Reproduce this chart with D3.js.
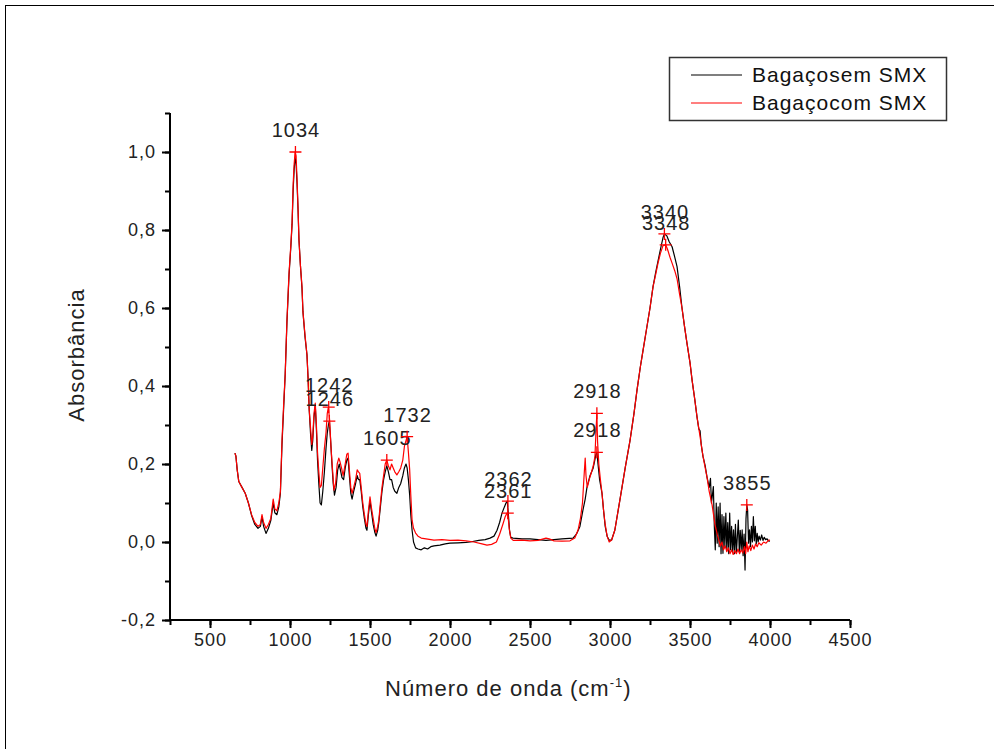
<!DOCTYPE html>
<html>
<head>
<meta charset="utf-8">
<script src="https://cdn.jsdelivr.net/npm/d3@7"></script>
<style>
  body{margin:0;background:#fff;}
  svg{display:block;font-family:"Liberation Sans",Arial,sans-serif;}
</style>
</head>
<body>
<div class="chart"></div>
<script>
// espectros FTIR - bagaço sem / com SMX

const semWn = [656,662,670,680,700,720,740,760,780,800,815,825,835,850,865,880,895,905,918,930,940,950,960,970,981,994,1005,1013,1020,1026,1032,1038,1044,1050,1056,1065,1075,1081,1094,1106,1113,1120,1128,1136,1142,1150,1158,1165,1172,1180,1188,1196,1205,1215,1225,1233,1240,1246,1254,1262,1270,1278,1288,1298,1308,1315,1325,1335,1345,1355,1363,1372,1380,1388,1398,1410,1420,1428,1436,1445,1455,1465,1475,1481,1490,1500,1510,1520,1530,1538,1548,1555,1565,1575,1585,1595,1605,1615,1625,1635,1645,1655,1668,1680,1692,1705,1715,1725,1732,1740,1748,1755,1763,1772,1785,1800,1820,1840,1860,1880,1900,1937,1970,2000,2050,2100,2125,2180,2220,2250,2275,2294,2310,2325,2340,2350,2358,2365,2372,2380,2394,2450,2500,2550,2600,2650,2700,2769,2790,2812,2830,2845,2856,2875,2895,2905,2912,2918,2925,2935,2950,2960,2970,2982,2994,3010,3030,3062,3095,3125,3150,3169,3190,3206,3230,3250,3269,3285,3300,3315,3331,3340,3355,3370,3388,3405,3419,3435,3450,3465,3481,3500,3513,3530,3544,3555,3563,3570,3581,3595,3606,3620,3628,3634,3640,3646,3652,3658,3664,3670,3676,3682,3688,3694,3700,3706,3712,3718,3724,3730,3736,3742,3748,3754,3760,3766,3772,3778,3784,3790,3796,3802,3808,3814,3820,3826,3832,3838,3844,3850,3855,3860,3866,3872,3878,3884,3890,3896,3902,3908,3914,3920,3926,3932,3940,3948,3956,3964,3972,3982,3990,4000];
const semAbs = [0.228,0.22,0.185,0.155,0.14,0.125,0.1,0.068,0.045,0.035,0.04,0.065,0.04,0.022,0.035,0.055,0.1,0.075,0.07,0.09,0.125,0.25,0.34,0.43,0.565,0.685,0.755,0.815,0.905,0.955,0.985,0.97,0.92,0.855,0.775,0.71,0.65,0.59,0.525,0.48,0.42,0.34,0.28,0.235,0.26,0.32,0.35,0.29,0.21,0.15,0.1,0.095,0.13,0.18,0.24,0.28,0.3,0.31,0.26,0.2,0.15,0.12,0.14,0.185,0.2,0.185,0.165,0.16,0.19,0.21,0.215,0.165,0.125,0.11,0.13,0.15,0.17,0.16,0.16,0.13,0.09,0.06,0.035,0.03,0.07,0.105,0.075,0.045,0.025,0.015,0.03,0.05,0.09,0.13,0.16,0.18,0.195,0.18,0.16,0.16,0.14,0.13,0.125,0.14,0.15,0.17,0.19,0.2,0.19,0.16,0.12,0.07,0.03,0.0,-0.015,-0.018,-0.02,-0.015,-0.018,-0.012,-0.01,-0.008,-0.005,-0.003,-0.002,-0.001,0.0,0.004,0.006,0.01,0.015,0.03,0.05,0.074,0.09,0.1,0.105,0.07,0.03,0.012,0.01,0.008,0.008,0.006,0.004,0.006,0.008,0.01,0.02,0.04,0.08,0.11,0.14,0.17,0.19,0.21,0.225,0.23,0.2,0.16,0.125,0.08,0.04,0.015,0.005,0.005,0.03,0.108,0.19,0.26,0.33,0.39,0.45,0.49,0.55,0.6,0.655,0.69,0.72,0.75,0.78,0.79,0.785,0.77,0.757,0.73,0.706,0.655,0.6,0.555,0.51,0.46,0.415,0.365,0.32,0.29,0.285,0.25,0.22,0.195,0.167,0.14,0.163,0.1,0.12,0.142,0.04,-0.02,0.1,-0.003,0.09,-0.012,0.1,-0.03,0.07,-0.029,0.065,-0.012,0.074,-0.02,0.05,-0.03,0.074,-0.02,0.04,-0.025,0.031,-0.03,0.045,-0.029,0.014,0.056,-0.025,0.03,-0.02,0.031,-0.035,0.02,-0.072,0.06,0.095,0.082,-0.003,0.031,-0.012,0.04,0.0,0.065,0.003,0.04,-0.005,0.022,0.0,0.015,0.005,0.018,0.004,0.012,0.006,0.008,0.003,0.002];

const comWn = [656,662,670,680,700,720,740,760,780,800,815,825,835,850,865,880,895,905,918,930,940,950,960,970,981,994,1005,1013,1020,1026,1032,1038,1044,1050,1056,1065,1075,1081,1094,1106,1113,1120,1128,1136,1142,1150,1158,1165,1172,1180,1188,1196,1205,1215,1225,1233,1240,1248,1256,1265,1275,1285,1295,1305,1313,1322,1332,1345,1355,1363,1372,1380,1388,1398,1410,1420,1428,1436,1445,1455,1465,1475,1481,1490,1500,1510,1520,1530,1538,1548,1555,1565,1575,1585,1595,1605,1615,1625,1635,1645,1655,1668,1680,1692,1705,1715,1725,1732,1740,1748,1755,1763,1772,1785,1800,1820,1850,1900,1950,2000,2050,2100,2150,2200,2231,2260,2290,2310,2330,2345,2356,2362,2370,2380,2395,2450,2500,2550,2600,2620,2650,2700,2750,2780,2800,2815,2828,2838,2845,2850,2858,2870,2885,2898,2906,2912,2918,2922,2930,2940,2950,2960,2970,2982,2995,3010,3030,3062,3095,3125,3150,3169,3190,3206,3230,3250,3269,3285,3300,3315,3331,3348,3360,3375,3388,3405,3419,3435,3450,3465,3481,3500,3513,3530,3544,3563,3581,3595,3606,3620,3638,3656,3670,3680,3690,3700,3710,3720,3730,3740,3750,3760,3770,3780,3790,3800,3810,3820,3830,3840,3848,3855,3862,3870,3880,3890,3900,3910,3920,3930,3945,3960,3975,3990,4000];
const comAbs = [0.228,0.22,0.185,0.155,0.14,0.125,0.1,0.07,0.05,0.04,0.045,0.07,0.05,0.035,0.045,0.06,0.11,0.085,0.08,0.1,0.13,0.26,0.35,0.43,0.57,0.69,0.76,0.82,0.92,0.97,1.0,0.99,0.93,0.86,0.775,0.71,0.655,0.59,0.53,0.48,0.42,0.34,0.295,0.25,0.27,0.33,0.356,0.3,0.23,0.18,0.14,0.145,0.19,0.24,0.28,0.33,0.346,0.31,0.245,0.19,0.133,0.15,0.2,0.215,0.205,0.19,0.17,0.2,0.225,0.228,0.18,0.14,0.125,0.14,0.16,0.185,0.18,0.176,0.14,0.1,0.07,0.045,0.04,0.08,0.116,0.085,0.06,0.035,0.024,0.04,0.056,0.1,0.14,0.17,0.2,0.21,0.195,0.185,0.2,0.19,0.18,0.172,0.18,0.19,0.21,0.245,0.26,0.27,0.23,0.185,0.12,0.056,0.035,0.023,0.015,0.01,0.008,0.005,0.006,0.004,0.005,0.003,0.0,-0.005,-0.008,-0.006,0.0,0.02,0.045,0.065,0.074,0.07,0.035,0.01,0.004,0.005,0.003,0.004,0.01,0.008,0.003,0.002,0.003,0.01,0.03,0.06,0.1,0.17,0.215,0.17,0.14,0.16,0.18,0.2,0.22,0.28,0.33,0.26,0.2,0.16,0.125,0.08,0.045,0.015,0.0,0.005,0.03,0.108,0.19,0.26,0.33,0.39,0.45,0.49,0.55,0.6,0.655,0.685,0.715,0.74,0.76,0.762,0.75,0.73,0.715,0.695,0.675,0.635,0.6,0.555,0.51,0.46,0.415,0.365,0.32,0.27,0.22,0.19,0.167,0.13,0.095,0.045,0.02,0.005,-0.01,0.0,-0.02,-0.01,-0.025,-0.015,-0.03,-0.02,-0.032,-0.022,-0.03,-0.018,-0.03,-0.02,-0.028,-0.012,-0.03,0.0,-0.025,-0.01,-0.022,-0.008,-0.018,-0.005,-0.012,-0.002,-0.008,0.0,-0.003,0.004,0.005];

// picos marcados
const peakWn = [1034,1242,1246,1605,1732,2362,2361,2918,2918,3340,3348,3855];
const peakAbs = [1.0,0.346,0.31,0.21,0.27,0.105,0.074,0.33,0.23,0.79,0.762,0.095];
const peakLabels = ["1034","1242","1246","1605","1732","2362","2361","2918","2918","3340","3348","3855"];

const xTicks = [500,1000,1500,2000,2500,3000,3500,4000,4500];
const yTicks = [-0.2,0.0,0.2,0.4,0.6,0.8,1.0];
const seriesNames = ["Bagaçosem SMX","Bagaçocom SMX"];
const seriesColors = ["#000000","#ff0000"];

const W=994,H=749;
const svg=d3.select(".chart").append("svg").attr("width",W).attr("height",H);

// moldura externa
svg.append("rect").attr("x",5.5).attr("y",5.5).attr("width",W).attr("height",H)
  .attr("fill","none").attr("stroke","#000").attr("stroke-width",1);

const x=d3.scaleLinear().domain([250,4500]).range([170,850]);
const y=d3.scaleLinear().domain([-0.2,1.1]).range([620,113]);

const fmt=d=>d3.format(".1f")(d).replace(".",",").replace("−","-");

// eixo x
const gx=svg.append("g").attr("transform","translate(0,620)");
gx.call(d3.axisBottom(x).tickValues(d3.range(250,4501,250)).tickSize(5).tickFormat(""));
gx.call(g=>g.append("g").call(d3.axisBottom(x).tickValues(xTicks).tickSize(8).tickFormat(d3.format("d"))));
gx.selectAll("path.domain").attr("stroke-width",2).attr("d","M170,0H850");
gx.selectAll("line").attr("stroke-width",2);
gx.selectAll("text").attr("font-size",18).attr("letter-spacing",1).attr("fill","#222").attr("dy","0.85em").attr("font-family","inherit");

// eixo y
const gy=svg.append("g").attr("transform","translate(170,0)");
gy.call(d3.axisLeft(y).tickValues(d3.range(-0.2,1.11,0.1)).tickSize(5).tickFormat(""));
gy.call(g=>g.append("g").call(d3.axisLeft(y).tickValues(yTicks).tickSize(8).tickFormat(fmt)));
gy.selectAll("path.domain").attr("stroke-width",2).attr("d","M0,620V113");
gy.selectAll("line").attr("stroke-width",2);
gy.selectAll("text").attr("font-size",18).attr("letter-spacing",1).attr("fill","#222").attr("x",-14).attr("font-family","inherit");

// títulos
svg.append("text").attr("x",385).attr("y",696).attr("font-size",22).attr("letter-spacing",1).attr("fill","#222")
  .text("Número de onda (cm").append("tspan").attr("font-size",13).attr("dy",-9).text("-1")
  .select(function(){return this.parentNode;}).append("tspan").attr("font-size",22).attr("dy",9).text(")");
svg.append("text").attr("transform","translate(84,355) rotate(-90)").attr("text-anchor","middle")
  .attr("font-size",22).attr("letter-spacing",1).attr("fill","#222").text("Absorbância");

// curvas
const line=d3.line().x(d=>x(d[0])).y(d=>y(d[1]));
const sem=semWn.map((w,i)=>[w,semAbs[i]]);
const com=comWn.map((w,i)=>[w,comAbs[i]]);
[sem,com].forEach((s,i)=>{
  svg.append("path").datum(s).attr("d",line).attr("fill","none")
    .attr("stroke",seriesColors[i]).attr("stroke-width",1.2).attr("stroke-linejoin","round");
});

// marcadores de pico
const peaks=svg.append("g");
peakWn.forEach((w,i)=>{
  const px=x(w),py=y(peakAbs[i]);
  peaks.append("path").attr("d",`M${px-6},${py}H${px+6}M${px},${py-6}V${py+6}`)
    .attr("stroke","#ff0000").attr("stroke-width",1.3);
  peaks.append("text").attr("x",px+0.5).attr("y",py-15).attr("text-anchor","middle")
    .attr("font-size",20).attr("letter-spacing",1).attr("fill","#222").text(peakLabels[i]);
});

// legenda
const leg=svg.append("g");
leg.append("rect").attr("x",669.5).attr("y",57.5).attr("width",277).attr("height",63)
  .attr("fill","#fff").attr("stroke","#333").attr("stroke-width",1.5);
seriesNames.forEach((n,i)=>{
  const ly=75+i*28;
  leg.append("line").attr("x1",691).attr("x2",742).attr("y1",ly).attr("y2",ly)
    .attr("stroke",seriesColors[i]).attr("stroke-width",1.2);
  leg.append("text").attr("x",752).attr("y",ly+7).attr("font-size",21).attr("letter-spacing",1).attr("fill","#111").text(n);
});
</script>
</body>
</html>
